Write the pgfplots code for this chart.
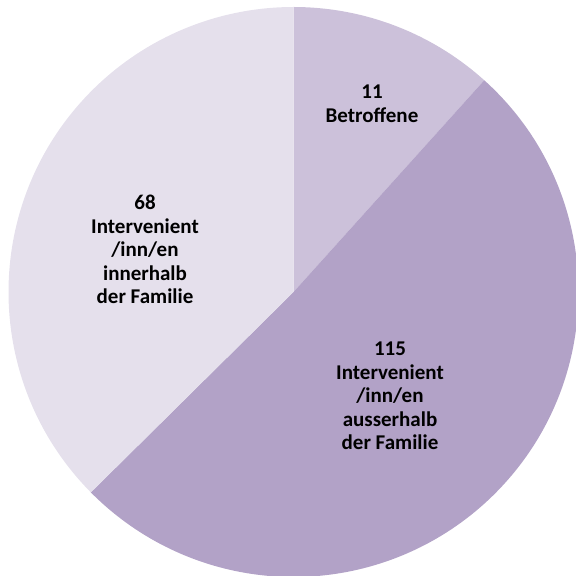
\documentclass[border=0pt]{standalone}
\usepackage{pgfplots}
\pgfplotsset{compat=1.18}
\usepackage{pgfplotstable}
\usepackage{fontspec}
\setmainfont{Carlito}
\definecolor{sliceA}{HTML}{CCC1DA}
\definecolor{sliceB}{HTML}{B2A2C7}
\definecolor{sliceC}{HTML}{E5E0EC}

% slice shares (percent of the circle, as drawn)
\pgfplotstableread{
share
11.67
50.92
37.41
}\pietable

\begin{document}%
\begin{tikzpicture}
\pgfplotstablegetelem{0}{share}\of\pietable \let\shA=\pgfplotsretval
\pgfplotstablegetelem{1}{share}\of\pietable \let\shB=\pgfplotsretval
\pgfplotstablegetelem{2}{share}\of\pietable \let\shC=\pgfplotsretval
\pgfmathsetmacro\angA{90}
\pgfmathsetmacro\angB{90-3.6*\shA}
\pgfmathsetmacro\angC{\angB-3.6*\shB}
\pgfmathsetmacro\angD{\angC-3.6*\shC}
\begin{axis}[name=ax,
  scale only axis, width=576pt, height=576pt,
  xmin=0, xmax=576, ymin=0, ymax=576,
  hide axis, clip=true]
\coordinate (BL) at (axis cs:0,0);
\coordinate (TR) at (axis cs:576,576);
\fill[sliceA] (axis cs:293.5,284) -- +(\angA:285pt) arc[start angle=\angA, end angle=\angB, radius=285pt] -- cycle;
\fill[sliceB] (axis cs:293.5,284) -- +(\angB:285pt) arc[start angle=\angB, end angle=\angC, radius=285pt] -- cycle;
\fill[sliceC] (axis cs:293.5,284) -- +(\angC:285pt) arc[start angle=\angC, end angle=\angD, radius=285pt] -- cycle;
\node[align=center, font=\fontsize{21}{23.5}\selectfont\bfseries] at (axis cs:372,472) {11\\Betroffene};
\node[align=center, font=\fontsize{21}{23.5}\selectfont\bfseries] at (axis cs:390,180) {115\\Intervenient\\/inn/en\\ausserhalb\\der Familie};
\node[align=center, font=\fontsize{21}{23.5}\selectfont\bfseries] at (axis cs:145,326.5) {68\\Intervenient\\/inn/en\\innerhalb\\der Familie};
\end{axis}
\pgfresetboundingbox
\useasboundingbox (BL) rectangle (TR);
\end{tikzpicture}%
\end{document}
